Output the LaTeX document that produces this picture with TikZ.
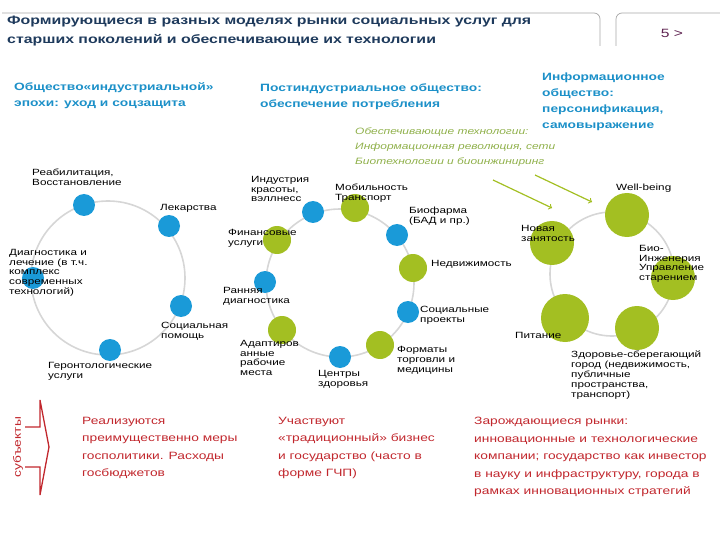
\documentclass[tikz,border=0pt]{standalone}
\usepackage{fontspec}
\setmainfont{Liberation Sans}[FakeStretch=1.3]
\definecolor{cblue}{HTML}{1A9AD8}
\definecolor{cgreen}{HTML}{A3BF22}
\definecolor{chead}{HTML}{1C90C8}
\definecolor{ctitle}{HTML}{1E3A5C}
\definecolor{cred}{HTML}{C1272D}
\definecolor{cring}{HTML}{D6D6D6}
\definecolor{ctext}{HTML}{8FB04A}
\begin{document}
\begin{tikzpicture}[x=1pt,y=-1pt,
  bdot/.style={circle,fill=cblue,inner sep=0pt,minimum size=22pt},
  gdot/.style={circle,fill=cgreen,inner sep=0pt,minimum size=28pt},
  bigg/.style={circle,fill=cgreen,inner sep=0pt,minimum size=44pt},
  lab/.style={anchor=north west,inner sep=0pt,align=left,font=\fontsize{9}{9.8}\selectfont},
  head/.style={anchor=north west,inner sep=0pt,align=left,text=chead,font=\bfseries\fontsize{10.6}{16}\selectfont},
  redt/.style={anchor=north west,inner sep=0pt,align=left,text=cred,font=\fontsize{10.6}{17.5}\selectfont},
  ring/.style={draw=cring,line width=1.6pt}]
\useasboundingbox (0,0) rectangle (720,540);
% title frames
\draw[gray!70,line width=0.7pt,rounded corners=6pt] (2,13) -- (600,13) -- (600,46);
\draw[gray!70,line width=0.7pt,rounded corners=6pt] (616,46) -- (616,13) -- (722,13);
\node[anchor=north west,inner sep=0pt,align=left,text=ctitle,font=\bfseries\fontsize{12.2}{19}\selectfont] (title) at (7,16) {Формирующиеся в разных моделях рынки социальных услуг для\\старших поколений и обеспечивающие их технологии};
\node[text=ctitle!60!purple,font=\fontsize{12}{12}\selectfont] (pg) at (672,33) {5 >};
% headings
\node[head] (h1) at (14,82) {Общество«индустриальной»\\эпохи: уход и соцзащита};
\node[head] (h2) at (260,84) {Постиндустриальное общество:\\обеспечение потребления};
\node[head] (h3) at (542,73) {Информационное\\общество:\\персонификация,\\самовыражение};
\node[anchor=north west,inner sep=0pt,align=left,text=ctext,font=\itshape\fontsize{9.2}{15}\selectfont] (tech) at (355,128) {Обеспечивающие технологии:\\Информационная революция, сети\\Биотехнологии и биоинжиниринг};
% ring 1
\draw[ring] (108,278) circle[radius=77];
\node[bdot] (a1) at (84,205) {};
\node[bdot] (a2) at (169,226) {};
\node[bdot] (a3) at (33,278) {};
\node[bdot] (a4) at (181,306) {};
\node[bdot] (a5) at (110,350) {};
% ring 2
\draw[ring] (340,283) circle[radius=74];
\node[bdot] (b1) at (313,212) {};
\node[gdot] (b2) at (355,208) {};
\node[bdot] (b3) at (397,235) {};
\node[gdot] (b4) at (413,268) {};
\node[bdot] (b5) at (408,312) {};
\node[gdot] (b6) at (380,345) {};
\node[bdot] (b7) at (340,357) {};
\node[gdot] (b8) at (282,330) {};
\node[bdot] (b9) at (265,282) {};
\node[gdot] (b10) at (277,240) {};
% ring 3
\draw[ring] (612,274) circle[radius=62];
\node[bigg] (c1) at (627,215) {};
\node[bigg] (c2) at (552,243) {};
\node[bigg] (c3) at (673,278) {};
\node[bigg,minimum size=48pt] (c4) at (565,318) {};
\node[bigg] (c5) at (637,328) {};
% green arrows
\coordinate (g1s) at (493,180); \coordinate (g1e) at (552,208);
\coordinate (g2s) at (535,175); \coordinate (g2e) at (592,202);
\draw[cgreen,line width=1.2pt,->] (g1s) -- (g1e);
\draw[cgreen,line width=1.2pt,->] (g2s) -- (g2e);
% labels
\node[lab] (l1) at (32,169) {Реабилитация,\\Восстановление};
\node[lab] (l2) at (160,204) {Лекарства};
\node[lab] (l3) at (9,249) {Диагностика и\\лечение (в т.ч.\\комплекс\\современных\\технологий)};
\node[lab] (l4) at (161,322) {Социальная\\помощь};
\node[lab] (l5) at (48,362) {Геронтологические\\услуги};
\node[lab] (m1) at (251,176) {Индустрия\\красоты,\\вэллнесс};
\node[lab] (m2) at (335,184) {Мобильность\\Транспорт};
\node[lab] (m3) at (409,207) {Биофарма\\(БАД и пр.)};
\node[lab] (m4) at (228,229) {Финансовые\\услуги};
\node[lab] (m5) at (431,260) {Недвижимость};
\node[lab] (m6) at (223,287) {Ранняя\\диагностика};
\node[lab] (m7) at (420,306) {Социальные\\проекты};
\node[lab] (m8) at (240,340) {Адаптиров\\анные\\рабочие\\места};
\node[lab] (m9) at (397,346) {Форматы\\торговли и\\медицины};
\node[lab] (m10) at (318,370) {Центры\\здоровья};
\node[lab] (n1) at (616,184) {Well-being};
\node[lab] (n2) at (521,225) {Новая\\занятость};
\node[lab] (n3) at (639,245) {Био-\\Инженерия\\Управление\\старением};
\node[lab] (n4) at (515,332) {Питание};
\node[lab] (n5) at (571,351) {Здоровье-сберегающий\\город (недвижимость,\\публичные\\пространства,\\транспорт)};
% subjects arrow
\draw[cred,line width=1.3pt] (25,427) -- (40,427) -- (40,400) -- (49,447) -- (40,495) -- (40,467) -- (25,467);
\node[rotate=90,text=cred,font=\fontsize{10.6}{10.6}\selectfont] (subj) at (18,447) {субъекты};
\node[redt] (r1) at (82,417) {Реализуются\\преимущественно меры\\госполитики. Расходы\\госбюджетов};
\node[redt] (r2) at (278,417) {Участвуют\\«традиционный» бизнес\\и государство (часто в\\форме ГЧП)};
\node[redt] (r3) at (474,417) {Зарождающиеся рынки:\\инновационные и технологические\\компании; государство как инвестор\\в науку и инфраструктуру, города в\\рамках инновационных стратегий};
\end{tikzpicture}
\end{document}
